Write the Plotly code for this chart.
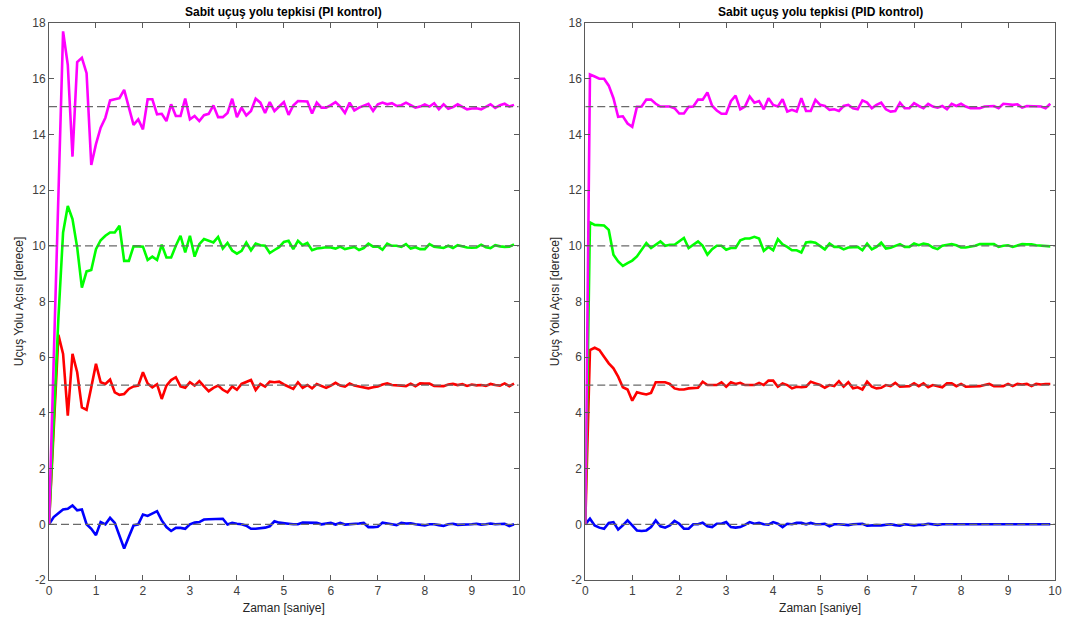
import plotly.graph_objects as go

# time axis (s)
t = [round(0.1 * i, 1) for i in range(100)]

# ---- PI control (left) ----
pi_15 = [0, 5.9, 11.8, 17.7, 16.5, 13.2, 16.6, 16.75, 16.2, 12.9,
         13.65, 14.24, 14.6, 15.22, 15.26, 15.3, 15.6, 14.96, 14.34, 14.54,
         14.18, 15.26, 15.26, 14.72, 14.74, 14.48, 15.08, 14.66, 14.66, 15.29,
         14.54, 14.66, 14.48, 14.69, 14.74, 15.04, 14.62, 14.62, 14.77, 15.28,
         14.62, 14.96, 14.68, 14.84, 15.28, 15.14, 14.77, 15.16, 14.84, 15.0,
         15.16, 14.7, 15.04, 15.2, 15.2, 15.18, 14.75, 15.14, 14.96, 14.96,
         15.05, 15.16, 15.0, 14.77, 15.14, 14.86, 14.96, 15.02, 15.1, 14.84,
         15.08, 15.14, 15.08, 15.12, 15.02, 15.05, 15.14, 15.05, 14.96, 15.0,
         15.08, 15.0, 15.12, 14.9, 15.08, 14.92, 14.98, 15.08, 15.0, 14.9,
         14.93, 14.94, 14.9, 15.0, 15.08, 14.95, 15.05, 15.1, 15.0, 15.06]
pi_10 = [0, 3.7, 7.4, 10.48, 11.43, 10.96, 9.94, 8.5, 9.08, 9.13,
         9.88, 10.2, 10.36, 10.48, 10.48, 10.72, 9.46, 9.46, 9.98, 9.98,
         9.97, 9.49, 9.61, 9.49, 10.04, 9.58, 9.58, 10.0, 10.36, 9.76,
         10.36, 9.61, 10.06, 10.24, 10.18, 10.12, 10.32, 9.9, 10.1, 9.83,
         9.72, 9.82, 10.12, 9.84, 10.08, 10.02, 10.0, 9.74, 9.85, 9.95,
         10.14, 10.18, 9.88, 10.18, 10.02, 10.1, 9.84, 9.9, 9.92, 9.95,
         9.94, 9.9, 9.97, 9.88, 9.92, 9.96, 9.85, 9.92, 10.08, 9.97,
         9.98, 9.86, 10.08, 10.0, 10.0, 9.96, 10.06, 9.9, 9.95, 9.88,
         9.88, 10.06, 9.97, 9.95, 9.92, 10.0, 9.92, 10.02, 9.98, 9.94,
         9.93, 9.94, 10.04, 9.95, 9.92, 10.02, 9.98, 9.96, 9.97, 10.05]
pi_5 = [0, 3.4, 6.8, 6.12, 3.9, 6.12, 5.46, 4.2, 4.11, 4.92,
        5.76, 5.1, 5.04, 5.2, 4.74, 4.65, 4.68, 4.86, 4.95, 4.98,
        5.46, 5.06, 4.92, 5.03, 4.5, 4.98, 5.18, 5.28, 4.95, 4.9,
        5.1, 4.98, 5.14, 4.95, 4.78, 4.9, 4.98, 4.83, 4.74, 4.95,
        4.83, 5.04, 5.1, 5.18, 4.82, 5.04, 4.94, 5.12, 5.1, 5.12,
        5.02, 4.95, 4.86, 5.1, 4.9, 5.0, 4.88, 5.04, 4.98, 4.9,
        4.98, 5.08, 4.98, 4.94, 5.06, 4.98, 4.95, 4.92, 4.88, 4.92,
        4.95, 5.02, 5.06, 5.0, 5.0, 4.98, 4.96, 5.05, 4.96, 5.06,
        5.05, 5.05, 4.97, 4.96, 4.96, 5.02, 5.04, 5.0, 5.03, 4.97,
        5.02, 4.99, 5.0, 4.97, 5.04, 5.0, 4.98, 5.06, 4.96, 5.05]
pi_0 = [0, 0.26, 0.4, 0.53, 0.56, 0.68, 0.5, 0.53, 0.0, -0.16,
        -0.39, 0.08, 0.0, 0.23, 0.05, -0.45, -0.87, -0.45, -0.04, 0.0,
        0.35, 0.3, 0.38, 0.47, 0.14, -0.1, -0.24, -0.13, -0.13, -0.16,
        0.0, 0.06, 0.08, 0.17, 0.18, 0.18, 0.18, 0.2, -0.01, 0.05,
        0.02, 0.0, -0.05, -0.16, -0.16, -0.14, -0.12, -0.07, 0.11, 0.06,
        0.05, 0.02, 0.0, 0.0, 0.06, 0.05, 0.04, 0.05, 0.0, 0.02,
        0.05, -0.01, 0.05, -0.01, 0.0, 0.0, 0.03, 0.05, -0.1, -0.1,
        -0.09, 0.06, 0.04, 0.0, -0.03, 0.05, 0.03, 0.04, 0.0, -0.02,
        -0.04, 0.0, 0.0, -0.03, -0.06, 0.0, 0.02, -0.02, -0.02, 0.0,
        0.0, 0.02, -0.01, 0.0, 0.03, 0.0, 0.0, 0.02, -0.06, 0.0]

# ---- PID control (right) ----
pid_15 = [0, 16.15, 16.08, 16.0, 16.0, 15.75, 15.3, 14.63, 14.65, 14.39,
          14.27, 14.99, 15.0, 15.25, 15.25, 15.1, 15.0, 15.0, 15.0, 14.94,
          14.75, 14.75, 14.99, 15.0, 15.25, 15.25, 15.51, 15.03, 14.86, 14.74,
          14.74, 15.19, 15.39, 14.9, 15.0, 15.36, 15.14, 15.2, 14.9, 15.3,
          15.06, 15.0, 15.26, 14.82, 14.88, 14.82, 15.3, 14.84, 14.84, 15.24,
          15.06, 15.02, 14.88, 14.9, 14.84, 15.02, 15.06, 14.94, 14.9, 15.22,
          15.14, 14.94, 15.06, 15.14, 14.9, 14.82, 14.84, 15.14, 14.94, 14.94,
          15.12, 15.02, 14.94, 15.1, 15.0, 14.96, 15.02, 14.9, 15.1, 15.02,
          15.1, 15.0, 14.94, 14.94, 14.94, 15.0, 15.02, 15.02, 14.94, 15.1,
          15.08, 15.06, 15.08, 14.96, 15.02, 15.02, 15.02, 15.0, 14.94, 15.1]
pid_10 = [0, 10.84, 10.75, 10.73, 10.73, 10.57, 9.68, 9.44, 9.28, 9.38,
          9.47, 9.62, 9.86, 10.1, 9.92, 10.04, 10.16, 10.0, 10.04, 10.04,
          10.16, 10.28, 9.92, 10.04, 10.16, 10.0, 9.68, 9.88, 10.0, 10.0,
          9.86, 9.92, 9.92, 10.2, 10.26, 10.26, 10.32, 10.26, 9.82, 9.96,
          9.84, 10.24, 10.05, 9.96, 9.84, 9.84, 9.76, 10.12, 10.14, 10.11,
          10.0, 9.87, 10.08, 9.96, 9.96, 9.87, 9.94, 9.94, 9.96, 9.84,
          10.08, 9.87, 9.96, 10.11, 9.9, 9.93, 10.0, 10.06, 9.96, 9.96,
          10.08, 10.02, 10.08, 10.05, 9.94, 9.88, 10.0, 10.02, 10.06, 10.02,
          9.94, 9.94, 9.96, 10.0, 10.06, 10.05, 10.06, 10.06, 9.96, 10.0,
          10.02, 9.96, 10.02, 10.06, 10.05, 10.05, 10.02, 10.0, 9.98, 9.98]
pid_5 = [0, 6.26, 6.34, 6.26, 6.02, 5.78, 5.6, 5.3, 4.92, 4.84,
         4.44, 4.74, 4.7, 4.66, 4.72, 5.1, 5.1, 5.1, 5.04, 4.88,
         4.84, 4.84, 4.88, 4.9, 4.9, 5.12, 5.0, 5.0, 5.0, 5.1,
         4.94, 5.1, 5.04, 5.08, 5.0, 5.0, 5.0, 5.08, 5.0, 5.16,
         5.16, 4.94, 5.06, 5.0, 4.88, 4.94, 4.92, 4.94, 5.12, 5.06,
         5.0, 4.9, 5.0, 4.96, 5.14, 4.94, 5.1, 4.88, 4.92, 4.84,
         5.12, 4.94, 4.88, 4.9, 5.0, 4.96, 5.08, 4.94, 4.96, 4.96,
         5.06, 4.96, 5.06, 4.92, 5.0, 4.96, 4.92, 5.06, 5.06, 4.96,
         5.04, 4.94, 4.94, 4.94, 4.96, 5.0, 5.04, 4.96, 4.96, 4.96,
         5.04, 4.96, 5.04, 5.02, 5.04, 4.96, 5.04, 5.02, 5.04, 5.04]
pid_0 = [0, 0.2, -0.04, -0.12, -0.16, 0.05, 0.08, -0.19, -0.04, 0.14,
         -0.04, -0.22, -0.24, -0.22, -0.1, 0.14, -0.07, -0.12, -0.04, 0.12,
         0.02, -0.16, -0.16, 0.0, 0.0, 0.06, -0.07, -0.1, 0.02, 0.02,
         0.08, -0.1, -0.12, -0.1, -0.02, 0.08, 0.02, 0.05, 0.0, -0.01,
         0.08, 0.02, -0.1, 0.02, 0.0, 0.05, 0.05, 0.0, 0.05, 0.0,
         0.0, 0.02, -0.07, 0.0, 0.0, -0.02, -0.03, 0.0, 0.02, 0.02,
         -0.05, -0.03, -0.03, -0.04, -0.02, 0.0, -0.03, -0.05, 0.0, -0.02,
         -0.04, -0.02, -0.02, 0.02, 0.0, -0.02, 0.0, 0.0, 0.0, 0.0,
         -0.02, -0.02, 0.0, 0.0, 0.0, 0.0, 0.0, 0.0, 0.0, 0.0,
         0.0, 0.0, 0.0, 0.0, 0.0, 0.0, 0.0, 0.0, 0.0, 0.0]

references = [0, 5, 10, 15]
ref_x = [0, 10]
colors = ["#0000FF", "#FF0000", "#00FF00", "#FF00FF"]
titles = ["Sabit uçuş yolu tepkisi (PI kontrol)", "Sabit uçuş yolu tepkisi (PID kontrol)"]
x_label = "Zaman [saniye]"
y_label = "Uçuş Yolu Açısı [derece]"
x_ticks = list(range(0, 11))
y_ticks = list(range(-2, 19, 2))
y_ticktext = [str(v) for v in y_ticks]

panels = [[pi_0, pi_5, pi_10, pi_15], [pid_0, pid_5, pid_10, pid_15]]

FONT = "Liberation Sans, Arial, Helvetica, sans-serif"
fig = go.Figure()

for p, series in enumerate(panels):
    xa = "x" if p == 0 else "x2"
    ya = "y" if p == 0 else "y2"
    for s, c in zip(series, colors):
        fig.add_trace(go.Scatter(x=t, y=s, mode="lines", xaxis=xa, yaxis=ya,
                                 line=dict(color=c, width=2.6), showlegend=False,
                                 hoverinfo="skip"))
    for r in references:
        fig.add_trace(go.Scatter(x=ref_x, y=[r, r], mode="lines", xaxis=xa, yaxis=ya,
                                 line=dict(color="#6a6a6a", width=1.2, dash="8px,4px"),
                                 showlegend=False, hoverinfo="skip"))

axis_common = dict(showline=True, linecolor="#5a5a5a", linewidth=1, mirror="ticks",
                   ticks="inside", ticklen=5, tickcolor="#5a5a5a", tickwidth=1,
                   showgrid=False, zeroline=False,
                   tickfont=dict(family=FONT, size=12, color="#404040"))

xdomains = [[0, 473 / 1013], [540 / 1013, 1]]
for p in range(2):
    sfx = "" if p == 0 else "2"
    fig.layout["xaxis" + sfx] = dict(axis_common, domain=xdomains[p], range=[0, 10],
                                     tickvals=x_ticks, anchor="y" + sfx,
                                     title=dict(text=x_label, standoff=6,
                                                font=dict(family=FONT, size=12, color="#262626")))
    fig.layout["yaxis" + sfx] = dict(axis_common, domain=[0, 1], range=[-2, 18],
                                     tickvals=y_ticks, ticktext=y_ticktext, anchor="x" + sfx,
                                     title=dict(text=y_label, standoff=6,
                                                font=dict(family=FONT, size=12, color="#262626")))
    cx = (xdomains[p][0] + xdomains[p][1]) / 2
    fig.add_annotation(text="<b>" + titles[p] + "</b>", x=cx, y=1, xref="paper", yref="paper",
                       xanchor="center", yanchor="bottom", yshift=2, showarrow=False,
                       font=dict(family=FONT, size=12, color="#000000"))

fig.update_layout(width=1071, height=624, paper_bgcolor="white", plot_bgcolor="white",
                  margin=dict(l=49, r=9, t=23, b=44), showlegend=False)

fig.write_html("out.html")
